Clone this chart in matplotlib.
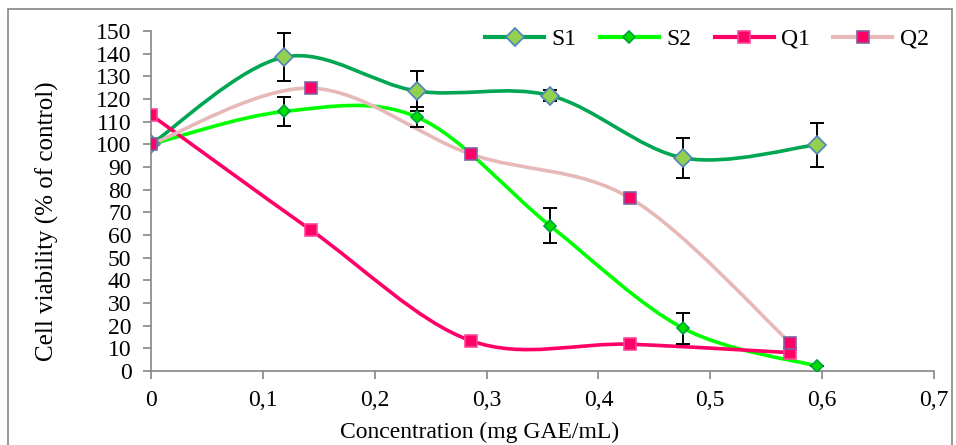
import matplotlib.pyplot as plt
import numpy as np
from matplotlib.path import Path
from matplotlib.patches import PathPatch, Rectangle
from matplotlib.lines import Line2D
from matplotlib.ticker import FuncFormatter, MultipleLocator

plt.rcParams['font.family'] = ['Liberation Serif', 'DejaVu Serif']

# data
x_s = [0, 0.119, 0.238, 0.357, 0.476, 0.595]
s1 = [100, 138.5, 123.5, 121.5, 94, 99.8]
s1_err = [0, 10.5, 9, 2.5, 8.8, 9.8]
s2 = [100, 114.5, 112, 64, 18.8, 2.2]
s2_err = [0, 6.3, 4.5, 7.7, 7, 0]

x_q = [0, 0.1429, 0.2857, 0.4286, 0.5714]
q1 = [113, 62.2, 13.4, 11.8, 8.1]
q2 = [100, 124.8, 95.7, 76.2, 12.5]


def smooth_path(x, y):
    # Excel-like smoothed line: cubic bezier through the points
    pts = np.column_stack([x, y]).astype(float)
    n = len(pts)
    verts = [pts[0]]
    codes = [Path.MOVETO]
    for i in range(n - 1):
        p0 = pts[i - 1] if i > 0 else pts[i]
        p1 = pts[i]
        p2 = pts[i + 1]
        p3 = pts[i + 2] if i + 2 < n else pts[i + 1]
        c1 = p1 + (p2 - p0) / 6
        c2 = p2 - (p3 - p1) / 6
        verts += [c1, c2, p2]
        codes += [Path.CURVE4] * 3
    return Path(verts, codes)


series = [
    ("S1", x_s, s1, s1_err, "#00A651", "D", "#92D050", "#4F81BD", 9),
    ("S2", x_s, s2, s2_err, "#00FF00", "D", "#00E000", "#00A040", 6.5),
    ("Q1", x_q, q1, None, "#FF0066", "s", "#FF0066", "#FF4499", 8),
    ("Q2", x_q, q2, None, "#E6B9B8", "s", "#FF0066", "#8064A2", 8),
]

fig = plt.figure(figsize=(9.56, 4.45), dpi=100)
ax = fig.add_axes([151 / 956, 1 - 371 / 445, (934 - 151) / 956, (371 - 31) / 445])

handles = []
for name, xs, ys, err, lc, mk, mfc, mec, ms in series:
    ax.add_patch(PathPatch(smooth_path(xs, ys), facecolor="none", edgecolor=lc,
                           lw=2.6, capstyle="round", zorder=2))
    if err is not None:
        ax.errorbar(xs[1:], ys[1:], yerr=err[1:], fmt="none", ecolor="black",
                    elinewidth=1.4, capsize=5, capthick=1.4, zorder=3)
    ax.plot(xs, ys, ls="none", marker=mk, ms=ms, mfc=mfc, mec=mec, mew=1.2, zorder=4)
    handles.append(Line2D([], [], color=lc, lw=3, marker=mk, ms=ms, mfc=mfc,
                          mec=mec, mew=1.2, label=name))

ax.set_xlim(0, 0.7)
ax.set_ylim(0, 150)
ax.xaxis.set_major_locator(MultipleLocator(0.1))
ax.yaxis.set_major_locator(MultipleLocator(10))
ax.xaxis.set_major_formatter(FuncFormatter(lambda v, p: ("%g" % round(v, 1)).replace(".", ",")))

for s in ["top", "right"]:
    ax.spines[s].set_visible(False)
for s in ["left", "bottom"]:
    ax.spines[s].set_color("#868686")
    ax.spines[s].set_linewidth(1.2)
ax.tick_params(axis="both", colors="#868686", labelcolor="black", labelsize=17,
               direction="out", length=6, width=1.2)
ax.tick_params(axis="x", pad=8)
ax.tick_params(axis="y", pad=8)

ax.set_xlabel("Concentration (mg GAE/mL)", fontsize=17)
ax.set_ylabel("Cell viability (% of control)", fontsize=18)
ax.xaxis.set_label_coords(0.419, -0.148)
ax.yaxis.set_label_coords(-0.118, 0.44)

ax.legend(handles=handles, loc="upper right", ncol=4, frameon=False, fontsize=17,
          handlelength=2.5, handletextpad=0.3, columnspacing=1.0,
          bbox_to_anchor=(1.02, 1.07))

fig.patches.append(Rectangle((8 / 956, -0.1), (952 - 8) / 956, 1.1 - 9 / 445,
                             transform=fig.transFigure, fill=False,
                             edgecolor="#868686", lw=1.2))

fig.savefig("out.png", dpi=100)
